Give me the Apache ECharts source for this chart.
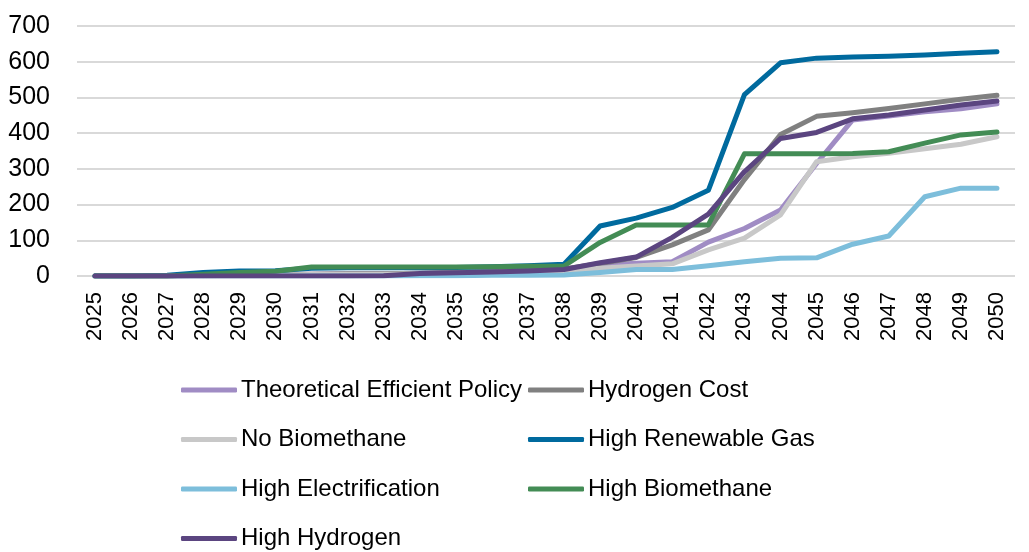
<!DOCTYPE html>
<html>
<head>
<meta charset="utf-8">
<script src="https://cdn.jsdelivr.net/npm/echarts@6/dist/echarts.min.js"></script>
<style>
	html, body { margin: 0; padding: 0; background: #fff; }
	#chart { width: 1029px; height: 552px; }
</style>
</head>
<body>
<div id="chart"></div>
<script type="text/javascript">
	// 年份
	var years = ['2025', '2026', '2027', '2028', '2029', '2030', '2031', '2032', '2033', '2034', '2035', '2036', '2037',
		'2038', '2039', '2040', '2041', '2042', '2043', '2044', '2045', '2046', '2047', '2048', '2049', '2050'];

	// 各情景数据
	var theoreticalEfficientPolicy = [0, 0, 0, 2, 3, 4, 5, 6, 6, 8, 10, 12, 14, 18, 30, 36, 40, 95, 133, 185, 315, 437, 448, 460, 468, 482];
	var hydrogenCost = [0, 0, 0, 2, 3, 4, 5, 6, 6, 8, 10, 12, 15, 20, 35, 52, 87, 129, 270, 396, 447, 457, 469, 482, 495, 506];
	var noBiomethane = [0, 0, 0, 1, 2, 3, 4, 5, 5, 6, 8, 10, 12, 15, 22, 28, 34, 73, 106, 171, 320, 334, 344, 356, 369, 390];
	var highRenewableGas = [0, 0, 2, 10, 14, 15, 22, 23, 23, 23, 24, 26, 29, 33, 140, 162, 192, 240, 508, 597, 610, 613, 615, 619, 624, 628];
	var highElectrification = [0, 0, 0, 0, 0, 0, 0, 0, 0, 1, 1, 2, 2, 3, 10, 18, 18, 29, 40, 50, 51, 89, 112, 222, 246, 246];
	var highBiomethane = [0, 0, 0, 5, 10, 13, 25, 25, 25, 25, 25, 26, 27, 28, 94, 143, 143, 143, 342, 342, 342, 343, 348, 372, 395, 403];
	var highHydrogen = [0, 0, 0, 0, 0, 0, 0, 0, 1, 7, 9, 11, 14, 18, 37, 53, 108, 173, 292, 385, 402, 440, 451, 465, 479, 490];

	var yTicks = [0, 100, 200, 300, 400, 500, 600, 700];

	// 图例两列排布
	var legendRows = [
		['Theoretical Efficient Policy', 'Hydrogen Cost'],
		['No Biomethane', 'High Renewable Gas'],
		['High Electrification', 'High Biomethane'],
		['High Hydrogen']
	];

	var font = '"Liberation Sans", Arial, sans-serif';

	function line(name, data, color) {
		return {
			name: name,
			type: 'line',
			data: data,
			symbol: 'none',
			color: color,
			lineStyle: { width: 5, color: color, cap: 'round', join: 'round' }
		};
	}

	// 每个图例项单独定位
	var legends = [];
	legendRows.forEach(function (row, r) {
		row.forEach(function (name, c) {
			legends.push({
				left: c === 0 ? 181 : 528,
				top: 378 + r * 49.5,
				data: [name],
				icon: 'roundRect',
				itemWidth: 56,
				itemHeight: 5,
				itemGap: 0,
				padding: 0,
				textStyle: { fontFamily: font, fontSize: 24, color: '#000', padding: [0, 0, 0, -1] },
				selectedMode: false
			});
		});
	});

	var chart = echarts.init(document.getElementById('chart'));
	chart.setOption({
		animation: false,
		grid: { left: 77, right: 14, top: 26, bottom: 276 },
		legend: legends,
		xAxis: {
			type: 'category',
			data: years,
			boundaryGap: true,
			axisLine: { show: false },
			axisTick: { show: false },
			axisLabel: { rotate: 90, margin: 16, fontFamily: font, fontSize: 22, color: '#000' }
		},
		yAxis: {
			type: 'value',
			min: yTicks[0],
			max: yTicks[yTicks.length - 1],
			interval: 100,
			axisLine: { show: false },
			axisTick: { show: false },
			axisLabel: { margin: 27, fontFamily: font, fontSize: 25, color: '#000' },
			splitLine: { lineStyle: { color: '#d9d9d9', width: 2 } }
		},
		series: [
			line('Theoretical Efficient Policy', theoreticalEfficientPolicy, '#a08cc4'),
			line('Hydrogen Cost', hydrogenCost, '#808080'),
			line('No Biomethane', noBiomethane, '#c8c8c8'),
			line('High Renewable Gas', highRenewableGas, '#006a9e'),
			line('High Electrification', highElectrification, '#7dbedb'),
			line('High Biomethane', highBiomethane, '#438c55'),
			line('High Hydrogen', highHydrogen, '#5b4580')
		]
	});
</script>
</body>
</html>
